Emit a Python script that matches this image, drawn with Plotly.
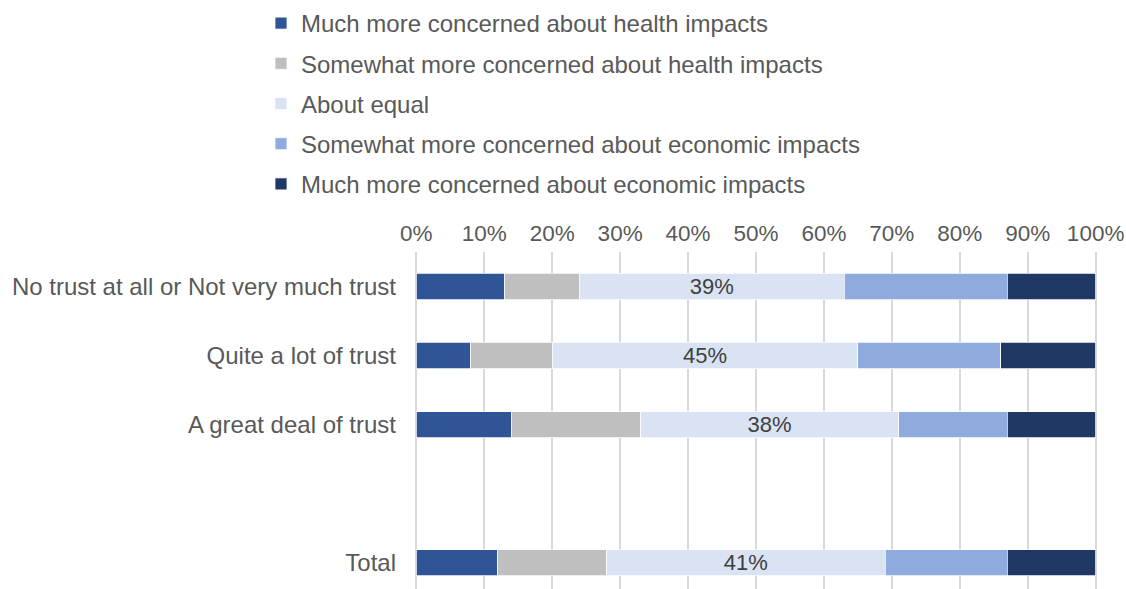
import plotly.graph_objects as go

categories = ["No trust at all or Not very much trust", "Quite a lot of trust",
              "A great deal of trust", " ", "Total"]
bar_categories = ["No trust at all or Not very much trust", "Quite a lot of trust",
                  "A great deal of trust", "Total"]

series_names = ["Much more concerned about health impacts",
                "Somewhat more concerned about health impacts",
                "About equal",
                "Somewhat more concerned about economic impacts",
                "Much more concerned about economic impacts"]

much_health = [13, 8, 14, 12]
somewhat_health = [11, 12, 19, 16]
about_equal = [39, 45, 38, 41]
somewhat_econ = [24, 21, 16, 18]
much_econ = [13, 14, 13, 13]

colors = ["#2F5597", "#BFBFBF", "#DAE3F3", "#8FAADC", "#203864"]

tick_vals = [0, 10, 20, 30, 40, 50, 60, 70, 80, 90, 100]
tick_text = ["0%", "10%", "20%", "30%", "40%", "50%", "60%", "70%", "80%", "90%", "100%"]

FONT = "Liberation Sans, Arial, sans-serif"
GRAY = "#595959"
FS = 24

fig = go.Figure()
all_values = [much_health, somewhat_health, about_equal, somewhat_econ, much_econ]
for i, (name, vals, col) in enumerate(zip(series_names, all_values, colors)):
    kw = {}
    if name == "About equal":
        kw = dict(text=[f"{v}%" for v in vals], texttemplate="%{text}",
                  textposition="inside", insidetextanchor="middle",
                  constraintext="none",
                  textfont=dict(family=FONT, size=22, color="#404040"))
    fig.add_trace(go.Bar(
        y=bar_categories, x=vals, name=name, orientation="h",
        marker=dict(color=col, line=dict(color="white", width=0.75)),
        legendgroup=f"g{i}", hoverinfo="skip", **kw))

fig.update_layout(
    barmode="stack",
    bargap=0.62,
    width=1126, height=589,
    plot_bgcolor="white", paper_bgcolor="white",
    margin=dict(l=415, r=29, t=252, b=0, pad=0, autoexpand=False),
    font=dict(family=FONT, size=FS, color=GRAY),
    showlegend=True,
    legend=dict(orientation="v", x=0.2318, xanchor="left", xref="container",
                y=1.7448, yanchor="top", yref="paper",
                traceorder="grouped", tracegroupgap=6,
                font=dict(family=FONT, size=FS, color=GRAY), itemwidth=30,
                bgcolor="rgba(0,0,0,0)"),
)
fig.update_xaxes(side="top", range=[-0.2, 100.2], tickvals=tick_vals, ticktext=tick_text,
                 showgrid=True, gridcolor="#D9D9D9", gridwidth=1.5, zeroline=False,
                 showline=False, ticks="", tickfont=dict(size=22.5, color=GRAY),
                 ticklabelstandoff=6, automargin=False, tickangle=0,
                 ticklabeloverflow="allow")
fig.update_yaxes(type="category", categoryorder="array", categoryarray=categories,
                 range=[4.38, -0.5], showgrid=False, zeroline=False, showline=False,
                 ticks="", tickfont=dict(size=FS, color=GRAY), ticklabelstandoff=18,
                 automargin=False)

fig.write_html("out.html", config={"displayModeBar": False},
               post_script="document.body.style.margin='0';")
